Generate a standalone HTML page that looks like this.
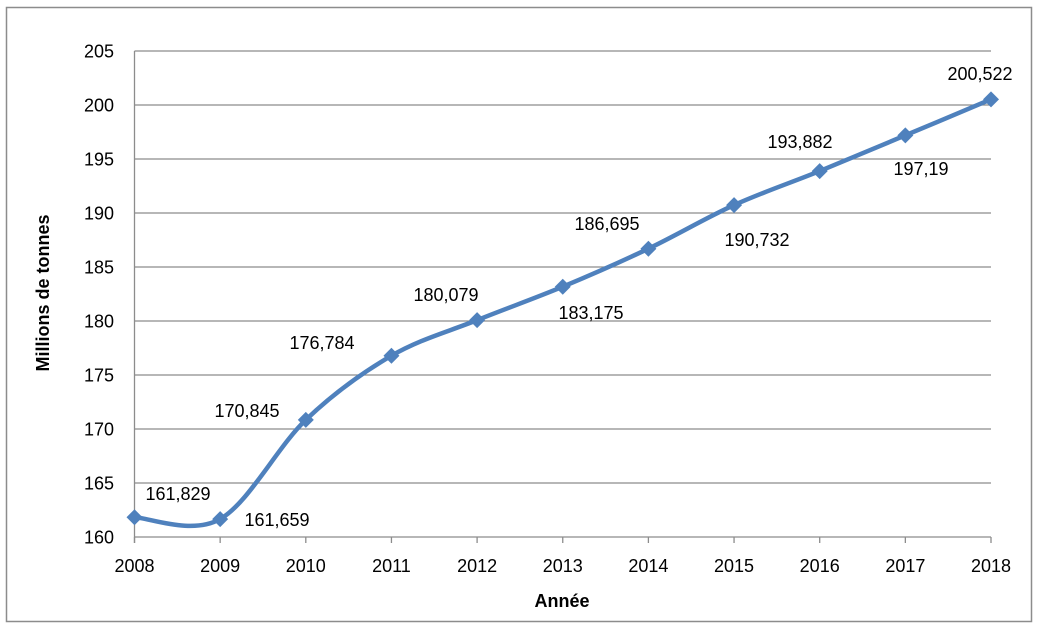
<!DOCTYPE html>
<html><head><meta charset="utf-8"><style>
body{margin:0;background:#fff}
svg{display:block;font-family:"Liberation Sans",sans-serif}
</style></head><body>
<svg id="s" width="1039" height="628" viewBox="0 0 1039 628">
<rect x="6.5" y="7.5" width="1025" height="614" fill="#fff" stroke="#8c8c8c" stroke-width="1.5"/>
<g id="grid" stroke="#8c8c8c" stroke-width="1.3"></g>
<g id="lab" font-size="18" fill="#000"></g>
<path id="line" fill="none" stroke="#4f81bd" stroke-width="4.5"/>
<g id="mk" fill="#4f81bd"></g>
<text x="49" y="293" font-size="18" font-weight="bold" text-anchor="middle" transform="rotate(-90 49 293)">Millions de tonnes</text>
<text x="562" y="607" font-size="18" font-weight="bold" text-anchor="middle">Année</text>
</svg>
<script>
var NS="http://www.w3.org/2000/svg";
function el(p,t,a,txt){var e=document.createElementNS(NS,t);for(var k in a)e.setAttribute(k,a[k]);if(txt!=null)e.textContent=txt;document.getElementById(p).appendChild(e);}
var X0=134.5,DX=85.65,Y0=537,K=10.8;
function X(i){return X0+DX*i}function Y(v){return Y0-(v-160)*K}
for(var v=160;v<=205;v+=5){var y=Y(v);el("grid","line",{x1:X0,x2:991,y1:y,y2:y});el("lab","text",{x:114,y:y+6.5,"text-anchor":"end"},v);}
el("grid","line",{x1:X0,x2:X0,y1:51,y2:543});
for(var i=0;i<=10;i++){el("grid","line",{x1:X(i),x2:X(i),y1:537,y2:543});el("lab","text",{x:X(i),y:572,"text-anchor":"middle"},2008+i);}
var d=[161.829,161.659,170.845,176.784,180.079,183.175,186.695,190.732,193.882,197.19,200.522];
var L=["161,829","161,659","170,845","176,784","180,079","183,175","186,695","190,732","193,882","197,19","200,522"];
var lp=[[178,500],[277,526],[247,417],[322,349],[446,301],[591,319],[607,230],[757,246],[800,148],[921,175],[980,80]];
var P=d.map(function(v,i){return[X(i),Y(v)]});
var s="M"+P[0][0]+","+P[0][1];
for(var i=0;i<P.length-1;i++){var p0=P[Math.max(i-1,0)],p1=P[i],p2=P[i+1],p3=P[Math.min(i+2,P.length-1)];
var t=1/6;s+=" C"+(p1[0]+(p2[0]-p0[0])*t)+","+(p1[1]+(p2[1]-p0[1])*t)+" "+(p2[0]-(p3[0]-p1[0])*t)+","+(p2[1]-(p3[1]-p1[1])*t)+" "+p2[0]+","+p2[1];}
document.getElementById("line").setAttribute("d",s);
P.forEach(function(p,i){el("mk","path",{d:"M"+p[0]+","+(p[1]-8)+" l8,8 l-8,8 l-8,-8z"});
el("lab","text",{x:lp[i][0],y:lp[i][1],"text-anchor":"middle"},L[i]);});
</script>
</body></html>
